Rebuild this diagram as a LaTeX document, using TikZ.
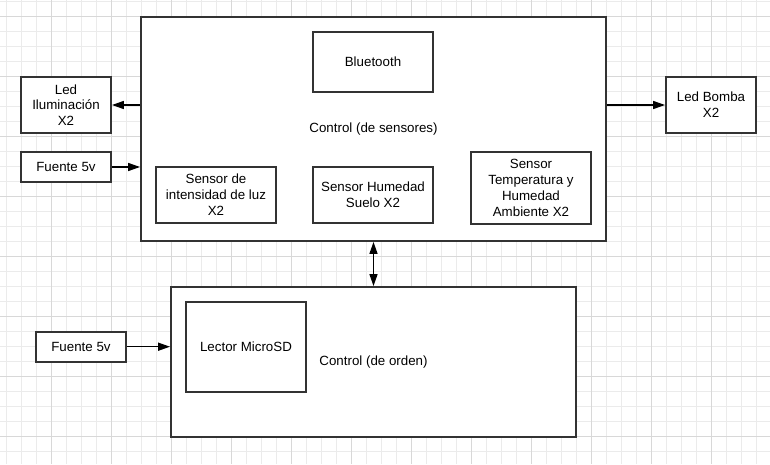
\documentclass[tikz,border=0pt]{standalone}
\usepackage{fontspec}
\setmainfont{Liberation Sans}
\usetikzlibrary{arrows.meta}
\definecolor{boxgray}{HTML}{333333}
\definecolor{gridminor}{HTML}{EBEBEB}
\definecolor{gridmajor}{HTML}{D8D8D8}
\tikzset{%
    blk/.style={draw=boxgray,line width=1.4pt,fill=white,align=center,inner sep=0pt,
        font=\fontsize{10}{11.8}\selectfont}
}
\begin{document}
\begin{tikzpicture}[
        x=0.75pt,y=-0.75pt,
        wire/.style={draw=black,line width=1.1pt,-{Triangle[length=9pt,width=6pt]}},
        both/.style={draw=black,line width=1.1pt,{Triangle[length=9pt,width=6pt]}-{Triangle[length=9pt,width=6pt]}}
        ]
        \useasboundingbox (0,0) rectangle (770,464);
        \clip (0,0) rectangle (770,464);
        \fill[white] (0,0) rectangle (770,464);
        \foreach \i in {0,...,51}
            \draw[gridminor,line width=0.75pt] ({6.7+15*\i},0) -- ({6.7+15*\i},464);
        \foreach \j in {0,...,30}
            \draw[gridminor,line width=0.75pt] (0,{1.7+15*\j}) -- (770,{1.7+15*\j});
        \foreach \i in {0,...,11}
            \draw[gridmajor,line width=0.75pt] ({51.7+60*\i},0) -- ({51.7+60*\i},464);
        \foreach \j in {0,...,7}
            \draw[gridmajor,line width=0.75pt] (0,{16.7+60*\j}) -- (770,{16.7+60*\j});

        \node[blk,minimum width=348.75pt,minimum height=168pt] (ctrlS) at (373.5,129){Control (de sensores)};
        \node[blk,minimum width=90pt,minimum height=45pt] (bt) at (373,62){Bluetooth};
        \node[blk,minimum width=90pt,minimum height=42pt] (luz) at (216,194.7){Sensor de\\intensidad de luz\\X2};
        \node[blk,minimum width=90pt,minimum height=42pt] (suelo) at (373,194.7){Sensor Humedad\\Suelo X2};
        \node[blk,minimum width=90pt,minimum height=54pt] (temp) at (531,188){Sensor\\Temperatura y\\Humedad\\Ambiente X2};

        \node[blk,minimum width=67.5pt,minimum height=42pt] (ledIlum) at (66,105){Led\\Iluminación\\X2};
        \node[blk,minimum width=67.5pt,minimum height=22.5pt] (fuenteA) at (66,167){Fuente 5v};
        \node[blk,minimum width=67.5pt,minimum height=42pt] (ledBomba) at (711,105){Led Bomba\\X2};

        \node[blk,minimum width=303.75pt,minimum height=112.5pt] (ctrlO) at (373.5,362){Control (de orden)};
        \node[blk,minimum width=90pt,minimum height=67.5pt] (sd) at (246,346.7){Lector MicroSD};
        \node[blk,minimum width=67.5pt,minimum height=22.5pt] (fuenteB) at (81,346.7){Fuente 5v};

        \draw[wire] (ctrlS.west |- ledIlum.east) -- (ledIlum.east);
        \draw[wire] (fuenteA.east) -- (fuenteA.east -| ctrlS.west);
        \draw[wire] (ctrlS.east |- ledBomba.west) -- (ledBomba.west);
        \draw[both] (ctrlS.south) -- (ctrlO.north);
        \draw[wire] (fuenteB.east) -- (fuenteB.east -| ctrlO.west);
    \end{tikzpicture}
\end{document}
